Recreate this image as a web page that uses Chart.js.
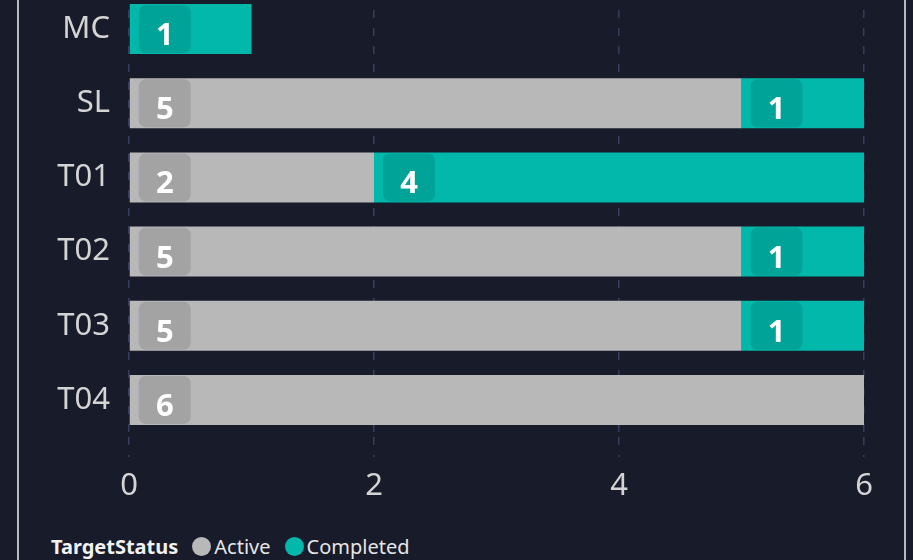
<!DOCTYPE html>
<html>
<head>
<meta charset="utf-8">
<script src="https://cdn.jsdelivr.net/npm/chart.js@4"></script>
<style>
  html, body { margin: 0; padding: 0; }
  body { width: 913px; height: 560px; background: #181b29; position: relative; overflow: hidden; font-family: "Noto Sans", sans-serif; }
  #wrap { position: absolute; left: 0; top: -8px; width: 913px; height: 520px; z-index: 1; }
  .frame { position: absolute; top: 0; width: 2px; height: 560px; background: #b9b9bd; z-index: 3; }
  #legend { position: absolute; left: 51px; top: 533px; display: flex; align-items: center; font-size: 20px; color: #e6e6e6; white-space: nowrap; z-index: 2; }
  #legend b { color: #f2f2f2; margin-right: 14px; }
  .dot { width: 19px; height: 19px; border-radius: 50%; display: inline-block; margin-right: 3px; }
  .item { display: flex; align-items: center; margin-right: 14px; }
</style>
</head>
<body>
<div id="wrap"><canvas id="chart"></canvas></div>
<div id="legend"></div>
<div class="frame" style="left:17px"></div>
<div class="frame" style="left:904px"></div>
<script>
// Data
const categories = ['MC', 'SL', 'T01', 'T02', 'T03', 'T04'];
const activeValues = [null, 5, 2, 5, 5, 6];
const completedValues = [1, 1, 4, 1, 1, null];
const xTicks = [0, 2, 4, 6];
const legendTitle = 'TargetStatus';

const seriesColors = { Active: '#b8b8b8', Completed: '#01b8aa' };

// Kotak label di awal tiap segmen
const labelBoxes = {
    id: 'labelBoxes',
    afterDatasetsDraw(chart) {
        const ctx = chart.ctx;
        chart.data.datasets.forEach((ds, i) => {
            const meta = chart.getDatasetMeta(i);
            meta.data.forEach((bar, j) => {
                const v = ds.data[j];
                if (!v) return;
                const p = bar.getProps(['x', 'y', 'base', 'height'], true);
                const left = Math.min(p.x, p.base);
                const bx = left + 9, bw = 52;
                const by = p.y - p.height / 2 + 1, bh = p.height - 2;
                ctx.save();
                ctx.fillStyle = 'rgba(0,0,0,0.11)';
                ctx.beginPath();
                ctx.roundRect(bx, by, bw, bh, 7);
                ctx.fill();
                ctx.fillStyle = '#ffffff';
                ctx.font = 'bold 31px "Noto Sans"';
                ctx.textAlign = 'center';
                ctx.textBaseline = 'alphabetic';
                ctx.fillText(String(v), bx + bw / 2, p.y + 16);
                ctx.restore();
            });
        });
    }
};

const ctx = document.getElementById('chart').getContext('2d');
new Chart(ctx, {
    type: 'bar',
    data: {
        labels: categories,
        datasets: [
            { label: 'Active', data: activeValues, backgroundColor: seriesColors.Active, inflateAmount: 0 },
            { label: 'Completed', data: completedValues, backgroundColor: seriesColors.Completed, inflateAmount: 0 }
        ]
    },
    options: {
        indexAxis: 'y',
        responsive: true,
        maintainAspectRatio: false,
        animation: false,
        barPercentage: 0.674,
        categoryPercentage: 1,
        layout: { padding: { left: 0, right: 49, top: 0, bottom: 0 } },
        plugins: {
            legend: { display: false },
            tooltip: { enabled: false }
        },
        scales: {
            x: {
                stacked: true,
                min: 0,
                max: 6,
                afterBuildTicks: scale => { scale.ticks = xTicks.map(v => ({ value: v })); },
                afterFit: scale => { scale.height = 75; scale.paddingLeft = 0; scale.paddingRight = 0; },
                grid: {
                    color: '#363d5e',
                    lineWidth: 1.5,
                    tickLength: 20,
                    tickColor: '#363d5e',
                    tickBorderDash: [8, 10]
                },
                border: { display: false, dash: [8, 10] },
                ticks: {
                    color: '#d4d4d4',
                    padding: 11,
                    font: { family: 'Noto Sans', size: 31 }
                }
            },
            y: {
                stacked: true,
                afterFit: scale => { scale.width = 129; scale.paddingTop = 0; scale.paddingBottom = 0; },
                grid: { display: false },
                border: { display: false },
                ticks: {
                    color: '#d4d4d4',
                    padding: 11,
                    font: { family: 'Noto Sans', size: 31 }
                }
            }
        }
    },
    plugins: [labelBoxes]
});

// Legenda HTML
const legend = document.getElementById('legend');
legend.innerHTML = '<b>' + legendTitle + '</b>' +
    Object.keys(seriesColors).map(name =>
        '<span class="item"><span class="dot" style="background:' + seriesColors[name] + '"></span>' + name + '</span>'
    ).join('');
</script>
</body>
</html>
